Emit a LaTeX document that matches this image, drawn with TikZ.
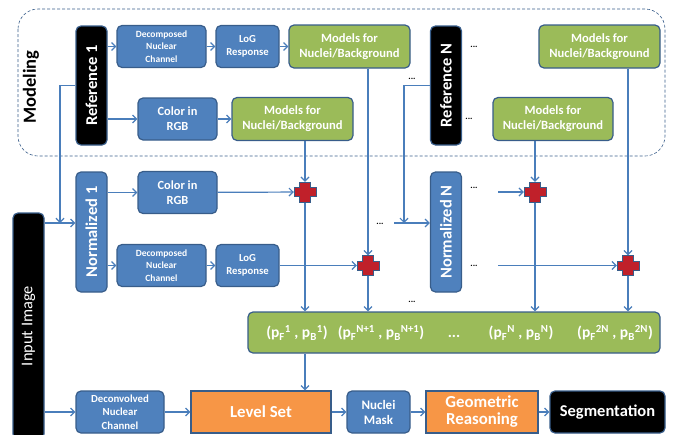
\documentclass[tikz,border=0pt]{standalone}
\usepackage{fontspec}
\setmainfont{Carlito}
\usepackage{graphicx}
\usepackage{tikz}
\usetikzlibrary{arrows.meta, positioning}

\definecolor{boxblue}{RGB}{79,129,189}
\definecolor{edgeblue}{RGB}{56,93,138}
\definecolor{linkblue}{RGB}{74,126,187}
\definecolor{boxgreen}{RGB}{155,187,89}
\definecolor{boxorange}{RGB}{247,150,70}
\definecolor{crossred}{RGB}{192,32,42}

\tikzset{
    boxbase/.style={draw=edgeblue, line width=1.2pt, text=white, align=center, inner sep=1pt},
    bluebox/.style={boxbase, fill=boxblue, rounded corners=5pt, minimum height=42pt,
        font=\bfseries\fontsize{9.5}{12.5}\selectfont},
    greenbox/.style={boxbase, fill=boxgreen, rounded corners=5pt, minimum height=43pt,
        minimum width=121pt, font=\bfseries\fontsize{12.6}{15}\selectfont},
    orangebox/.style={boxbase, fill=boxorange, minimum height=42pt,
        font=\bfseries\fontsize{16.8}{17}\selectfont},
    blackbox/.style={boxbase, fill=black, rounded corners=5pt, minimum height=42pt,
        font=\bfseries\fontsize{16.5}{17}\selectfont},
    vbar/.style={boxbase, rounded corners=5pt, minimum width=31pt, inner sep=0pt,
        font=\bfseries\fontsize{16.5}{16.5}\selectfont},
    crosspt/.style={minimum width=22pt, minimum height=20pt, inner sep=0pt},
    plabel/.style={text=white, font=\bfseries\fontsize{15.5}{15.5}\selectfont},
    dotlabel/.style={font=\bfseries\fontsize{9}{9}\selectfont},
    link/.style={-{Straight Barb[length=4pt,width=8pt]}, draw=linkblue, line width=1.2pt},
}

\newcommand{\redcross}[1]{%
    \filldraw[fill=crossred, draw=edgeblue, line width=1pt, shift={(#1)}]
        (-5.5,-10) -- (5.5,-10) -- (5.5,-4.5) -- (11,-4.5) -- (11,4.5) -- (5.5,4.5)
        -- (5.5,10) -- (-5.5,10) -- (-5.5,4.5) -- (-11,4.5) -- (-11,-4.5) -- (-5.5,-4.5) -- cycle;}

\begin{document}
\begin{tikzpicture}[x=1pt, y=-1pt]
    \useasboundingbox (0,0) rectangle (674,434);

    % Modeling frame
    \draw[densely dashed, draw=edgeblue, line width=0.6pt, rounded corners=20pt] (18,9) rectangle (665,156);
    \node[font=\bfseries\fontsize{18.5}{18.5}\selectfont] (modeling) at (31,87) {\rotatebox{90}{Modeling}};

    % Reference and normalized bars
    \node[vbar, fill=black, minimum height=119pt] (ref1) at (91.5,85.5) {\rotatebox{90}{Reference 1}};
    \node[vbar, fill=black, minimum height=119pt] (refN) at (446,85.5) {\rotatebox{90}{Reference N}};
    \node[vbar, fill=boxblue, minimum height=120pt] (norm1) at (91.5,232) {\rotatebox{90}{Normalized 1}};
    \node[vbar, fill=boxblue, minimum height=120pt] (normN) at (446,232) {\rotatebox{90}{Normalized N}};
    \node[vbar, fill=black, minimum height=226pt, font=\fontsize{16.4}{16.4}\selectfont] (inimg) at (28.5,326) {\rotatebox{90}{Input Image}};

    % Modeling boxes
    \node[bluebox, minimum width=89pt] (dnc1) at (161.5,46.5) {Decomposed\\Nuclear\\Channel};
    \node[bluebox, minimum width=63pt, font=\bfseries\fontsize{10.7}{13.5}\selectfont] (log1) at (247.5,46.5) {LoG\\Response};
    \node[greenbox] (mod1) at (349.5,46.5) {Models for\\Nuclei/Background};
    \node[bluebox, minimum width=79pt, font=\bfseries\fontsize{12.4}{15}\selectfont] (rgb1) at (177.5,119) {Color in\\RGB};
    \node[greenbox] (mod2) at (292.5,119) {Models for\\Nuclei/Background};
    \node[greenbox] (modN1) at (599.5,46.5) {Models for\\Nuclei/Background};
    \node[greenbox, minimum width=120pt] (modN2) at (553,119) {Models for\\Nuclei/Background};

    % Feature boxes
    \node[bluebox, minimum width=79pt, font=\bfseries\fontsize{12.4}{15}\selectfont] (rgb2) at (177.5,192.5) {Color in\\RGB};
    \node[bluebox, minimum width=89pt] (dnc2) at (161.5,265.5) {Decomposed\\Nuclear\\Channel};
    \node[bluebox, minimum width=63pt, font=\bfseries\fontsize{10.7}{13.5}\selectfont] (log2) at (247.5,265.5) {LoG\\Response};

    % Combination points
    \node[crosspt] (p1) at (305,192) {};
    \node[crosspt] (p2) at (368,265.5) {};
    \node[crosspt] (p3) at (535,192) {};
    \node[crosspt] (p4) at (628,265.5) {};

    % Probabilities
    \node[greenbox, minimum width=412pt, minimum height=41pt] (pbox) at (454,332.5) {};
    \node[plabel] (pr1) at (297,333) {(p\textsubscript{F}\textsuperscript{1} , p\textsubscript{B}\textsuperscript{1})};
    \node[plabel] (pr2) at (381,333) {(p\textsubscript{F}\textsuperscript{N+1} , p\textsubscript{B}\textsuperscript{N+1})};
    \node[plabel] (pr3) at (454,336) {...};
    \node[plabel] (pr4) at (521,333) {(p\textsubscript{F}\textsuperscript{N} , p\textsubscript{B}\textsuperscript{N})};
    \node[plabel] (pr5) at (615,333) {(p\textsubscript{F}\textsuperscript{2N} , p\textsubscript{B}\textsuperscript{2N})};

    % Segmentation pipeline
    \node[bluebox, minimum width=88pt, font=\bfseries\fontsize{10.8}{13.5}\selectfont] (deconv) at (120,412) {Deconvolved\\Nuclear\\Channel};
    \node[orangebox, minimum width=140pt] (levelset) at (261,412) {Level Set};
    \node[bluebox, minimum width=63pt, font=\bfseries\fontsize{13}{15}\selectfont] (mask) at (378.5,412) {Nuclei\\Mask};
    \node[orangebox, minimum width=112pt] (geo) at (482,412) {Geometric\\Reasoning};
    \node[blackbox, minimum width=115pt] (seg) at (607.5,412) {Segmentation};

    % Dots
    \node[dotlabel] (d1) at (474,47) {...};
    \node[dotlabel] (d2) at (412,79) {...};
    \node[dotlabel] (d3) at (469,119) {...};
    \node[dotlabel] (d4) at (380,224) {...};
    \node[dotlabel] (d5) at (474,188) {...};
    \node[dotlabel] (d6) at (474,266) {...};
    \node[dotlabel] (d7) at (412,302) {...};

    % Connectors
    \coordinate (j1) at (60,223);
    \coordinate (jN) at (404,223);
    \coordinate (sN) at (394,223);
    \coordinate (s3) at (498,192);
    \coordinate (s4) at (498,265.5);

    \draw[link] (ref1.east |- dnc1) -- (dnc1);
    \draw[link] (dnc1) -- (log1);
    \draw[link] (log1) -- (mod1);
    \draw[link] (ref1.east |- rgb1) -- (rgb1);
    \draw[link] (rgb1) -- (mod2);
    \draw[link] (ref1.west) -| (j1);
    \draw[link] (inimg.east |- j1) -- (norm1.west |- j1);
    \draw[link] (refN.west) -| (jN);
    \draw[link] (sN) -- (normN.west |- sN);
    \draw[link] (norm1.east |- rgb2) -- (rgb2);
    \draw[link] (norm1.east |- dnc2) -- (dnc2);
    \draw[link] (dnc2) -- (log2);
    \draw[link] (log2) -- (p2);
    \draw[link] (rgb2) -- (p1);
    \draw[link] (mod2.south -| p1) -- (p1);
    \draw[link] (mod1.south -| p2) -- (p2);
    \draw[link] (modN2.south -| p3) -- (p3);
    \draw[link] (modN1.south -| p4) -- (p4);
    \draw[link] (s3) -- (p3);
    \draw[link] (s4) -- (p4);
    \foreach \p in {p1,p2,p3,p4}
        \draw[link] (\p) -- (\p |- pbox.north);
    \draw[link] (pbox.south -| p1) -- (levelset.north -| p1);
    \draw[link] (inimg.east |- deconv) -- (deconv);
    \draw[link] (deconv) -- (levelset);
    \draw[link] (levelset) -- (mask);
    \draw[link] (mask) -- (geo);
    \draw[link] (geo) -- (seg);

    % Red crosses
    \foreach \p in {p1,p2,p3,p4}
        \redcross{\p};
\end{tikzpicture}
\end{document}
